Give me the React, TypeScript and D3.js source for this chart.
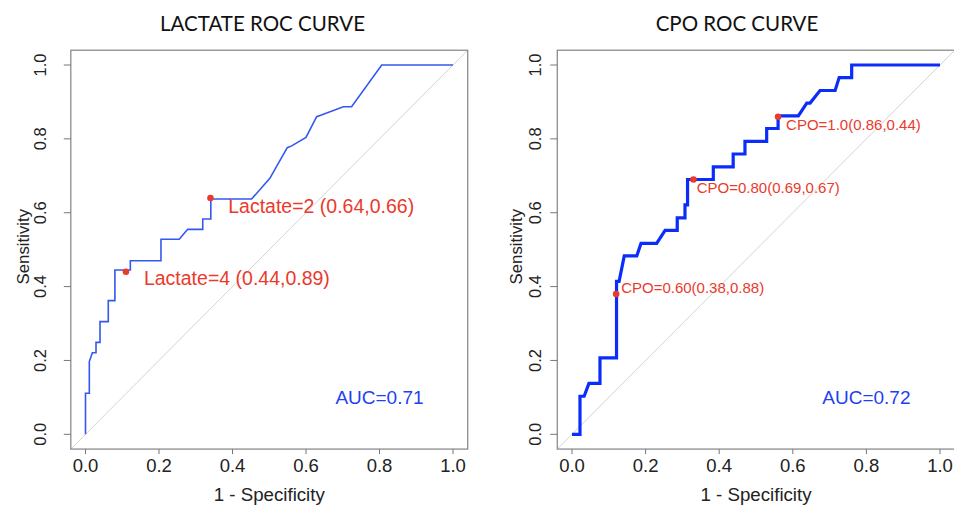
import React from "react";
import * as d3 from "d3";

// ---- data ----
const tickValues = [0, 0.2, 0.4, 0.6, 0.8, 1.0];
const tickLabels = ["0.0", "0.2", "0.4", "0.6", "0.8", "1.0"];

const lactateFpr = [0, 0, 0.0104, 0.0104, 0.0186, 0.0286, 0.0286, 0.0395, 0.0395, 0.062, 0.062, 0.08, 0.08, 0.122, 0.122, 0.2054, 0.2054, 0.255, 0.278, 0.319, 0.319, 0.341, 0.341, 0.452, 0.5016, 0.549, 0.561, 0.6, 0.629, 0.64, 0.7016, 0.724, 0.806, 1.0];
const lactateTpr = [0, 0.111, 0.111, 0.197, 0.221, 0.221, 0.249, 0.249, 0.305, 0.305, 0.362, 0.362, 0.445, 0.445, 0.47, 0.47, 0.528, 0.528, 0.555, 0.555, 0.583, 0.583, 0.637, 0.637, 0.693, 0.776, 0.781, 0.804, 0.86, 0.864, 0.887, 0.887, 1.0, 1.0];

const cpoFpr = [0, 0.0217, 0.0217, 0.033, 0.046, 0.076, 0.076, 0.121, 0.121, 0.128, 0.142, 0.176, 0.1875, 0.23, 0.253, 0.286, 0.286, 0.307, 0.307, 0.314, 0.314, 0.384, 0.384, 0.438, 0.438, 0.47, 0.47, 0.529, 0.529, 0.56, 0.56, 0.615, 0.638, 0.647, 0.674, 0.715, 0.726, 0.76, 0.76, 1.0];
const cpoTpr = [0, 0, 0.103, 0.103, 0.138, 0.138, 0.207, 0.207, 0.414, 0.414, 0.483, 0.483, 0.517, 0.517, 0.552, 0.552, 0.586, 0.586, 0.621, 0.621, 0.69, 0.69, 0.724, 0.724, 0.759, 0.759, 0.793, 0.793, 0.828, 0.828, 0.862, 0.862, 0.897, 0.897, 0.931, 0.931, 0.966, 0.966, 1.0, 1.0];

const lactateCutLabels = ["Lactate=2 (0.64,0.66)", "Lactate=4 (0.44,0.89)"];
const lactateCutFpr = [0.34, 0.11];
const lactateCutTpr = [0.64, 0.44];

const cpoCutLabels = ["CPO=1.0(0.86,0.44)", "CPO=0.80(0.69,0.67)", "CPO=0.60(0.38,0.88)"];
const cpoCutFpr = [0.56, 0.33, 0.12];
const cpoCutTpr = [0.86, 0.69, 0.38];

const titles = ["LACTATE ROC CURVE", "CPO ROC CURVE"];
const aucLabels = ["AUC=0.71", "AUC=0.72"];
const aucPos = [0.8, 0.1];

// ---- styles / layout ----
const W = 954;
const H = 505;
const AXIS_FONT = "'Liberation Sans', Arial, sans-serif";
const TITLE_FONT = "Lato, 'Open Sans', sans-serif";
const RED = "#ea3a2c";
const BLUE_TEXT = "#1f3ff2";

type PanelCfg = {
  x0: number;
  x1: number;
  titleX: number;
  yTickBase: number;
  yLabBase: number;
  lineColor: string;
  lineWidth: number;
  labelSize: number;
  labelOffsets: [number, number][];
};

const panelCfgs: PanelCfg[] = [
  { x0: 85.5, x1: 453, titleX: 262.5, yTickBase: 46, yLabBase: 28.5, lineColor: "#3358f0", lineWidth: 1.6, labelSize: 19.5, labelOffsets: [[17.8, 15], [18, 13.5]] },
  { x0: 572, x1: 940, titleX: 737, yTickBase: 541, yLabBase: 521.5, lineColor: "#0b2dfa", lineWidth: 3.2, labelSize: 15, labelOffsets: [[8, 13.5], [3.3, 13.8], [5, -0.5]] },
];

const Y0 = 434.3;
const Y1 = 65;

function Panel({ idx, fpr, tpr, cutLabels, cutFpr, cutTpr }: { idx: number; fpr: number[]; tpr: number[]; cutLabels: string[]; cutFpr: number[]; cutTpr: number[] }) {
  const cfg = panelCfgs[idx];
  const pad = 0.04;
  const xs = d3.scaleLinear().domain([0, 1]).range([cfg.x0, cfg.x1]);
  const ys = d3.scaleLinear().domain([0, 1]).range([Y0, Y1]);
  const bx0 = xs(-pad), bx1 = xs(1 + pad), by0 = ys(-pad), by1 = ys(1 + pad);
  const pts = fpr.map((f, i) => [f, tpr[i]] as [number, number]);
  const line = d3.line<[number, number]>().x((d) => xs(d[0])).y((d) => ys(d[1]));
  const midX = xs(0.5);
  const midY = ys(0.5);
  return (
    <g>
      <text x={cfg.titleX} y={31} textAnchor="middle" fontFamily={TITLE_FONT} fontSize={20.5} fill="#111">{titles[idx]}</text>
      <line x1={xs(-pad)} y1={ys(-pad)} x2={xs(1 + pad)} y2={ys(1 + pad)} stroke="#d4d4d4" strokeWidth={1} />
      <path d={line(pts) || ""} fill="none" stroke={cfg.lineColor} strokeWidth={cfg.lineWidth} strokeLinejoin="miter" />
      <rect x={bx0} y={by1} width={bx1 - bx0} height={by0 - by1} fill="none" stroke="#8c8c8c" strokeWidth={1.3} />
      {tickValues.map((t, i) => (
        <g key={"xt" + i}>
          <line x1={xs(t)} x2={xs(t)} y1={by0} y2={by0 + 5} stroke="#777" strokeWidth={1} />
          <text x={xs(t)} y={471.5} textAnchor="middle" fontFamily={AXIS_FONT} fontSize={18.5} fill="#222">{tickLabels[i]}</text>
        </g>
      ))}
      {tickValues.map((t, i) => (
        <g key={"yt" + i}>
          <line x1={bx0 - 7} x2={bx0} y1={ys(t)} y2={ys(t)} stroke="#777" strokeWidth={1} />
          <text transform={`translate(${cfg.yTickBase},${ys(t)}) rotate(-90)`} textAnchor="middle" fontFamily={AXIS_FONT} fontSize={16.5} fill="#222">{tickLabels[i]}</text>
        </g>
      ))}
      <text x={midX} y={501} textAnchor="middle" fontFamily={AXIS_FONT} fontSize={18.7} fill="#222">1 - Specificity</text>
      <text transform={`translate(${cfg.yLabBase},${midY - 3}) rotate(-90)`} textAnchor="middle" fontFamily={AXIS_FONT} fontSize={16.8} fill="#222">Sensitivity</text>
      {cutLabels.map((lab, i) => (
        <g key={"c" + i}>
          <circle cx={xs(cutFpr[i])} cy={ys(cutTpr[i])} r={3.3} fill={RED} />
          <text x={xs(cutFpr[i]) + cfg.labelOffsets[i][0]} y={ys(cutTpr[i]) + cfg.labelOffsets[i][1]} fontFamily={AXIS_FONT} fontSize={cfg.labelSize} fill={RED}>{lab}</text>
        </g>
      ))}
      <text x={xs(aucPos[0])} y={ys(aucPos[1]) + 7} textAnchor="middle" fontFamily={AXIS_FONT} fontSize={19} fill={BLUE_TEXT}>{aucLabels[idx]}</text>
    </g>
  );
}

export default function App() {
  return (
    <svg width={W} height={H} style={{ position: "absolute", left: 0, top: 0, background: "#fff" }}>
      <rect x={0} y={0} width={W} height={H} fill="#fff" />
      <Panel idx={0} fpr={lactateFpr} tpr={lactateTpr} cutLabels={lactateCutLabels} cutFpr={lactateCutFpr} cutTpr={lactateCutTpr} />
      <Panel idx={1} fpr={cpoFpr} tpr={cpoTpr} cutLabels={cpoCutLabels} cutFpr={cpoCutFpr} cutTpr={cpoCutTpr} />
    </svg>
  );
}
